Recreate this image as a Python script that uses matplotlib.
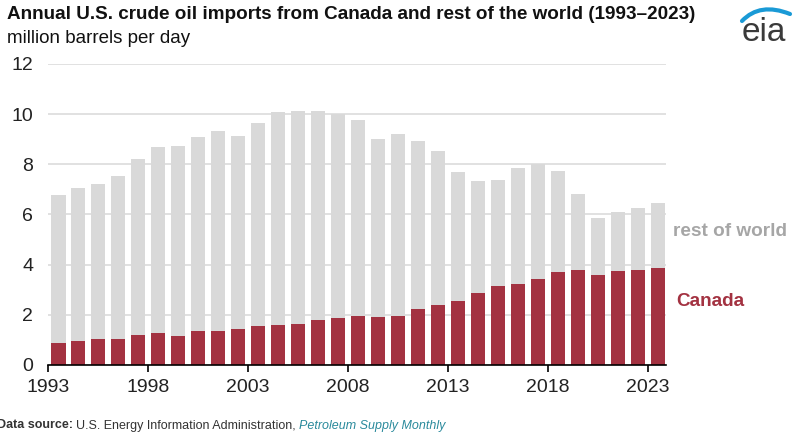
import matplotlib
matplotlib.use("Agg")
import matplotlib.pyplot as plt
from matplotlib.path import Path
from matplotlib.patches import PathPatch

plt.rcParams["font.family"] = ["Liberation Sans", "DejaVu Sans"]

years = list(range(1993, 2024))
total = [6.78, 7.06, 7.23, 7.52, 8.21, 8.69, 8.73, 9.08, 9.33, 9.14,
         9.66, 10.07, 10.13, 10.13, 10.02, 9.78, 9.00, 9.21, 8.93, 8.53,
         7.71, 7.34, 7.36, 7.85, 8.00, 7.75, 6.80, 5.87, 6.10, 6.26, 6.46]
canada = [0.86, 0.97, 1.02, 1.05, 1.18, 1.26, 1.16, 1.34, 1.34, 1.44,
          1.54, 1.61, 1.63, 1.81, 1.89, 1.97, 1.93, 1.97, 2.22, 2.41,
          2.56, 2.88, 3.15, 3.22, 3.44, 3.71, 3.80, 3.60, 3.76, 3.80, 3.87]
rest_of_world = [t - c for t, c in zip(total, canada)]
tick_years = [1993, 1998, 2003, 2008, 2013, 2018, 2023]

canada_color = "#a33241"
rest_color = "#d9d9d9"

fig = plt.figure(figsize=(8, 4.38), dpi=100)
ax = fig.add_axes([0.0604, 0.1667, 0.772, 0.6872])

ax.bar(years, canada, width=0.72, color=canada_color, zorder=2)
ax.bar(years, rest_of_world, width=0.72, bottom=canada, color=rest_color, zorder=2)

ax.set_ylim(0, 12)
ax.set_xlim(1992.5, 2023.4)
ax.set_yticks(range(0, 13, 2))
ax.tick_params(axis="y", length=0, pad=11, labelsize=14, labelcolor="#222222")
ax.set_xticks([y - 0.5 for y in tick_years])
ax.set_xticklabels([str(y) for y in tick_years])
ax.tick_params(axis="x", length=5, width=1.2, pad=5, labelsize=14,
               direction="out", labelcolor="#222222")
ax.yaxis.grid(True, color="#dcdcdc", linewidth=1.2, zorder=0)
ax.set_axisbelow(True)
for side in ["top", "right", "left"]:
    ax.spines[side].set_visible(False)
ax.spines["bottom"].set_linewidth(1.2)
ax.spines["bottom"].set_zorder(3)

fig.text(673 / 800, 1 - 236 / 438, "rest of world", color="#a6a6a6",
         fontsize=13.7, fontweight="bold", va="baseline")
fig.text(676 / 800, 1 - 306.5 / 438, "Canada", color=canada_color,
         fontsize=13.6, fontweight="bold", va="baseline")

fig.text(7 / 800, 1 - 19 / 438,
         "Annual U.S. crude oil imports from Canada and rest of the world (1993\u20132023)",
         fontsize=13.6, fontweight="bold", va="baseline", color="#111111")
fig.text(7 / 800, 1 - 43 / 438, "million barrels per day",
         fontsize=13.5, va="baseline", color="#111111")

src = fig.text(-3 / 800, 1 - 428.5 / 438, "Data source:", fontsize=9,
               fontweight="bold", va="baseline", color="#333333")
fig.canvas.draw()
bb = src.get_window_extent()
src2 = fig.text(bb.x1 / 800 + 0.004, 1 - 428.5 / 438,
                "U.S. Energy Information Administration,", fontsize=9,
                va="baseline", color="#333333")
fig.canvas.draw()
bb2 = src2.get_window_extent()
fig.text(bb2.x1 / 800 + 0.004, 1 - 428.5 / 438, "Petroleum Supply Monthly",
         fontsize=9, style="italic", va="baseline", color="#2a8a9c")

# eia logo
fig.text(764 / 800, 1 - 41 / 438, "eia", fontsize=24, ha="center",
         va="baseline", color="#3a3a3a")
pts = [(742, 21), (760, 2), (790, 14)]
verts = [(x / 800, 1 - y / 438) for x, y in pts]
swoosh = Path(verts, [Path.MOVETO, Path.CURVE3, Path.CURVE3])
fig.add_artist(PathPatch(swoosh, fill=False, edgecolor="#1a9ad6", linewidth=3,
                         transform=fig.transFigure, capstyle="round"))

fig.savefig("out.png", dpi=100)
